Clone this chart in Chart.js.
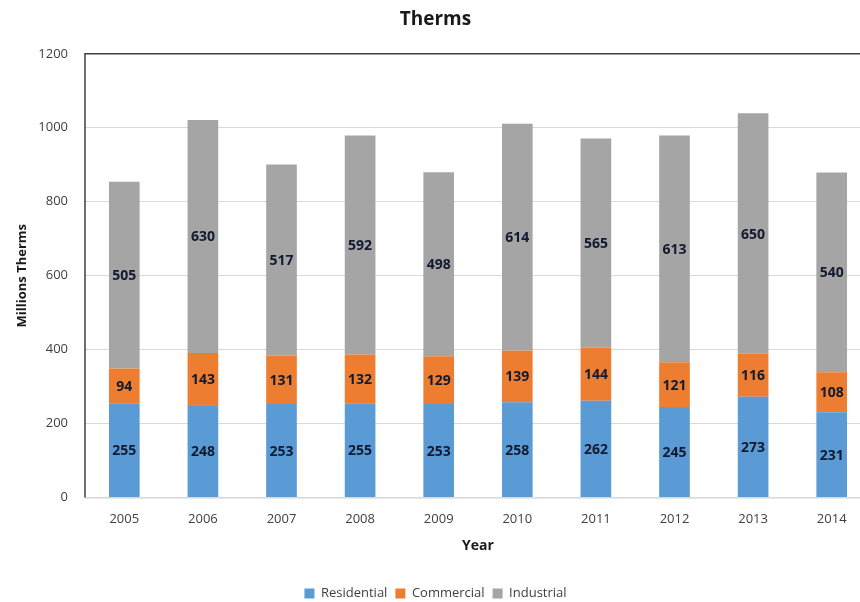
<!DOCTYPE html>
<html>
<head>
<meta charset="utf-8">
<script src="https://cdn.jsdelivr.net/npm/chart.js@4/dist/chart.umd.min.js"></script>
<style>
  html,body{margin:0;padding:0;background:#fff;overflow:hidden;}
  #wrap{width:873px;height:602px;position:relative;}
</style>
</head>
<body>
<div id="wrap"><canvas id="c"></canvas></div>
<script>
// ===== Data =====
const years = ['2005','2006','2007','2008','2009','2010','2011','2012','2013','2014'];
const residential = [255,248,253,255,253,258,262,245,273,231];
const commercial  = [94,143,131,132,129,139,144,121,116,108];
const industrial  = [505,630,517,592,498,614,565,613,650,540];
const yTicks = [0,200,400,600,800,1000,1200];

const FONT = "'Open Sans', 'Liberation Sans', sans-serif";

// ===== Value labels in bar centers =====
const barLabels = {
  id:'barLabels',
  afterDatasetsDraw(chart){
    const ctx=chart.ctx;
    ctx.save();
    ctx.font = `bold 14px ${FONT}`;
    ctx.fillStyle = '#111a2e';
    ctx.textAlign='center'; ctx.textBaseline='middle';
    chart.data.datasets.forEach((ds,i)=>{
      chart.getDatasetMeta(i).data.forEach((bar,j)=>{
        const {x,y,base}=bar.getProps(['x','y','base'],true);
        ctx.fillText(String(ds.data[j]), x, (y+base)/2 + 1);
      });
    });
    ctx.restore();
  }
};

// ===== Frame: dark top & left edge, light baseline =====
const frame = {
  id:'frame',
  afterDraw(chart){
    const {left,top,right,bottom}=chart.chartArea, ctx=chart.ctx;
    ctx.save();
    ctx.strokeStyle='#d9d9d9'; ctx.lineWidth=1;
    ctx.beginPath(); ctx.moveTo(left, bottom+0.5); ctx.lineTo(right, bottom+0.5); ctx.stroke();
    ctx.strokeStyle='#404040'; ctx.lineWidth=1.5;
    ctx.beginPath();
    ctx.moveTo(left, bottom); ctx.lineTo(left, top); ctx.lineTo(right, top);
    ctx.stroke();
    ctx.restore();
  }
};

new Chart(document.getElementById('c'),{
  type:'bar',
  data:{
    labels: years,
    datasets:[
      {label:'Residential', data:residential, backgroundColor:'#5b9bd5'},
      {label:'Commercial',  data:commercial,  backgroundColor:'#ed7d31'},
      {label:'Industrial',  data:industrial,  backgroundColor:'#a5a5a5'}
    ]
  },
  options:{
    responsive:true, maintainAspectRatio:false, animation:false,
    categoryPercentage:1, barPercentage:0.39,
    layout:{ padding:{ left:0, right:2, top:8, bottom:-8 } },
    plugins:{
      title:{ display:true, text:'Therms', color:'#1a1a1a',
        font:{ family:FONT, size:19, weight:'bold' }, padding:{ top:0, bottom:23 } },
      legend:{ position:'bottom',
        labels:{ color:'#404040', font:{ family:FONT, size:13 }, boxWidth:10, boxHeight:10, padding:8 } },
      tooltip:{ enabled:false }
    },
    scales:{
      x:{ stacked:true,
        grid:{ display:false },
        border:{ display:false },
        ticks:{ color:'#404040', font:{ family:FONT, size:13 }, padding:6 },
        title:{ display:true, text:'Year', color:'#1a1a1a', font:{ family:FONT, size:14, weight:'bold' }, padding:{ top:4, bottom:25 } }
      },
      y:{ stacked:true, min:0, max:1200,
        afterBuildTicks(s){ s.ticks = yTicks.map(v=>({value:v})); },
        afterFit(s){ s.width = 85; },
        grid:{ color:'#d9d9d9', drawTicks:false },
        border:{ display:false },
        ticks:{ color:'#404040', font:{ family:FONT, size:13 }, padding:17, callback:v=>String(v) },
        title:{ display:true, text:'Millions Therms', color:'#1a1a1a', font:{ family:FONT, size:13, weight:'bold' }, padding:{ top:14, bottom:0 } }
      }
    }
  },
  plugins:[barLabels, frame]
});
</script>
</body>
</html>
